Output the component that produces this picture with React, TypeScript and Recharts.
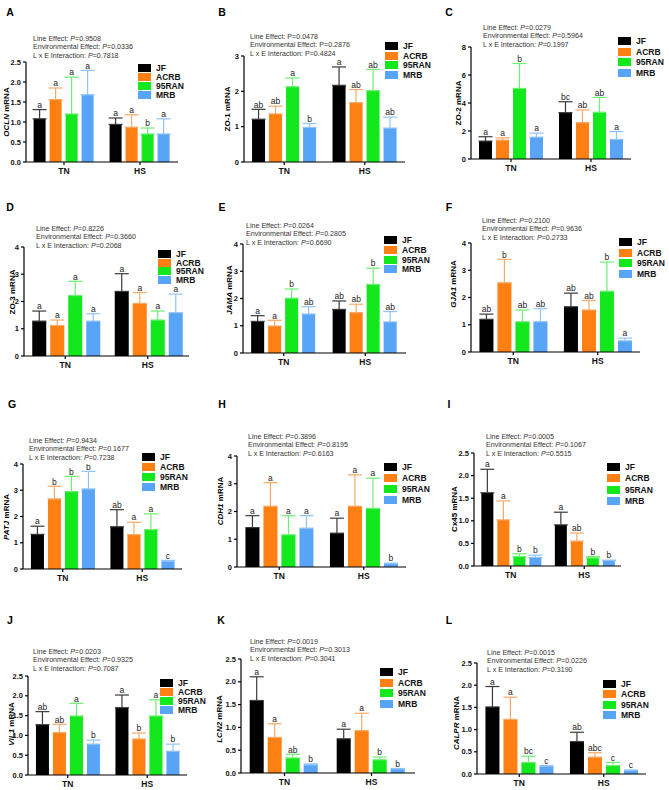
import React from "react";
import { BarChart, Bar, XAxis, YAxis, ErrorBar } from "recharts";

const groups = ["TN", "HS"];
const lines = ["JF", "ACRB", "95RAN", "MRB"];
const barColors = ["#000000", "#ff8012", "#12e81c", "#58a4f6"];
const errColors = ["#3a3a3a", "#f8a966", "#6cef74", "#92c3f8"];
const statNames = ["Line Effect: ", "Environmental Effect: ", "L x E Interaction: "];

// each array: TN (JF, ACRB, 95RAN, MRB), then HS in the same order
const oclnM = [1.08, 1.56, 1.2, 1.68, 0.94, 0.87, 0.7, 0.7];
const oclnE = [0.23, 0.29, 0.92, 0.61, 0.16, 0.31, 0.15, 0.38];
const oclnL = ["a", "a", "a", "a", "a", "a", "b", "a"];
const oclnP = ["0.9508", "0.0336", "0.7818"];

const zo1M = [1.21, 1.36, 2.13, 0.98, 2.17, 1.68, 2.02, 0.96];
const zo1E = [0.28, 0.22, 0.25, 0.11, 0.52, 0.37, 0.6, 0.31];
const zo1L = ["ab", "ab", "a", "b", "a", "ab", "ab", "ab"];
const zo1P = ["0.0478", "0.2876", "0.4824"];

const zo2M = [1.28, 1.35, 5.04, 1.56, 3.31, 2.6, 3.34, 1.4];
const zo2E = [0.31, 0.16, 1.78, 0.29, 0.78, 0.9, 1.06, 0.56];
const zo2L = ["a", "a", "b", "a", "bc", "ab", "ab", "a"];
const zo2P = ["0.0279", "0.5964", "0.1997"];

const zo3M = [1.28, 1.12, 2.22, 1.28, 2.37, 1.93, 1.32, 1.59];
const zo3E = [0.37, 0.2, 0.52, 0.27, 0.65, 0.4, 0.33, 0.68];
const zo3L = ["a", "a", "a", "a", "a", "a", "a", "a"];
const zo3P = ["0.8226", "0.3660", "0.2068"];

const jamaM = [1.16, 0.99, 2.01, 1.43, 1.6, 1.48, 2.52, 1.14];
const jamaE = [0.21, 0.21, 0.34, 0.27, 0.31, 0.31, 0.59, 0.38];
const jamaL = ["a", "a", "b", "ab", "ab", "ab", "b", "ab"];
const jamaP = ["0.0264", "0.2805", "0.6690"];

const gja1M = [1.2, 2.54, 1.11, 1.11, 1.66, 1.54, 2.23, 0.41];
const gja1E = [0.19, 0.86, 0.43, 0.48, 0.5, 0.35, 1.07, 0.1];
const gja1L = ["ab", "b", "ab", "ab", "ab", "ab", "b", "a"];
const gja1P = ["0.2100", "0.9636", "0.2733"];

const patjM = [1.32, 2.67, 2.95, 3.05, 1.61, 1.31, 1.5, 0.3];
const patjE = [0.31, 0.48, 0.58, 0.67, 0.65, 0.47, 0.6, 0.03];
const patjL = ["a", "b", "b", "b", "ab", "a", "a", "c"];
const patjP = ["0.9434", "0.1677", "0.7238"];

const cdh1M = [1.42, 2.19, 1.16, 1.4, 1.22, 2.19, 2.11, 0.12];
const cdh1E = [0.43, 0.85, 0.69, 0.45, 0.54, 1.13, 1.09, 0.02];
const cdh1L = ["a", "a", "a", "a", "a", "a", "a", "b"];
const cdh1P = ["0.3896", "0.8195", "0.6163"];

const cx45M = [1.62, 1.02, 0.21, 0.19, 0.91, 0.55, 0.18, 0.12];
const cx45E = [0.52, 0.42, 0.06, 0.05, 0.28, 0.18, 0.03, 0.01];
const cx45L = ["a", "a", "b", "b", "a", "ab", "b", "b"];
const cx45P = ["0.0005", "0.1067", "0.5515"];

const vil1M = [1.27, 1.07, 1.49, 0.78, 1.7, 0.91, 1.49, 0.6];
const vil1E = [0.33, 0.21, 0.32, 0.1, 0.32, 0.15, 0.41, 0.18];
const vil1L = ["ab", "ab", "a", "b", "a", "b", "a", "b"];
const vil1P = ["0.0203", "0.9325", "0.7087"];

const lcn2M = [1.59, 0.78, 0.33, 0.18, 0.75, 0.93, 0.29, 0.09];
const lcn2E = [0.52, 0.3, 0.08, 0.02, 0.21, 0.38, 0.06, 0.01];
const lcn2L = ["a", "a", "ab", "b", "a", "a", "b", "b"];
const lcn2P = ["0.0019", "0.3013", "0.3041"];

const calprM = [1.51, 1.23, 0.26, 0.17, 0.73, 0.38, 0.19, 0.08];
const calprE = [0.46, 0.5, 0.14, 0.02, 0.21, 0.1, 0.07, 0.01];
const calprL = ["a", "a", "bc", "c", "ab", "abc", "c", "c"];
const calprP = ["0.0015", "0.0226", "0.3190"];

const ticks25 = [0, 0.5, 1, 1.5, 2, 2.5];
const ticks3 = [0, 1, 2, 3];
const ticks4 = [0, 1, 2, 3, 4];
const ticks8 = [0, 2, 4, 6, 8];

const panels = [
  { id: "A", gene: "OCLN", it: true, m: oclnM, e: oclnE, l: oclnL, p: oclnP, ticks: ticks25, dec: 1 },
  { id: "B", gene: "ZO-1", it: false, m: zo1M, e: zo1E, l: zo1L, p: zo1P, ticks: ticks3, dec: 0, plainP: true },
  { id: "C", gene: "ZO-2", it: false, m: zo2M, e: zo2E, l: zo2L, p: zo2P, ticks: ticks8, dec: 0 },
  { id: "D", gene: "ZO-3", it: false, m: zo3M, e: zo3E, l: zo3L, p: zo3P, ticks: ticks4, dec: 0 },
  { id: "E", gene: "JAMA", it: true, m: jamaM, e: jamaE, l: jamaL, p: jamaP, ticks: ticks4, dec: 0 },
  { id: "F", gene: "GJA1", it: true, m: gja1M, e: gja1E, l: gja1L, p: gja1P, ticks: ticks4, dec: 0 },
  { id: "G", gene: "PATJ", it: true, m: patjM, e: patjE, l: patjL, p: patjP, ticks: ticks4, dec: 0 },
  { id: "H", gene: "CDH1", it: true, m: cdh1M, e: cdh1E, l: cdh1L, p: cdh1P, ticks: ticks4, dec: 0 },
  { id: "I", gene: "Cx45", it: false, m: cx45M, e: cx45E, l: cx45L, p: cx45P, ticks: ticks25, dec: 1 },
  { id: "J", gene: "VIL1", it: true, m: vil1M, e: vil1E, l: vil1L, p: vil1P, ticks: ticks25, dec: 1 },
  { id: "K", gene: "LCN2", it: true, m: lcn2M, e: lcn2E, l: lcn2L, p: lcn2P, ticks: ticks25, dec: 1 },
  { id: "L", gene: "CALPR", it: true, m: calprM, e: calprE, l: calprL, p: calprP, ticks: ticks25, dec: 1 },
];

// page placement of each panel: plot box, stats note, legend, panel letter, y title
const layout = [
  { ax: 26, top: 62, bot: 162, right: 178, note: [33, 39], leg: [138, 68, 8.9], tag: [10, 12], yt: [6, 112] },
  { ax: 244, top: 56, bot: 162, right: 405, note: [250, 37], leg: [385, 46, 9.6], tag: [222, 12], yt: [227, 109] },
  { ax: 471, top: 47, bot: 159, right: 631, note: [483, 28], leg: [618, 41, 10.5], tag: [449, 12], yt: [458, 103] },
  { ax: 24, top: 247, bot: 356, right: 189, note: [36, 229], leg: [158, 254, 8.6], tag: [10, 207], yt: [12, 292] },
  { ax: 243, top: 244, bot: 353, right: 406, note: [246, 226], leg: [384, 240, 9.8], tag: [222, 207], yt: [229, 290] },
  { ax: 471, top: 243, bot: 352, right: 640, note: [482, 221], leg: [619, 242, 10.5], tag: [449, 207], yt: [453, 284] },
  { ax: 23, top: 464, bot: 569, right: 182, note: [29, 441], leg: [142, 457, 10], tag: [12, 404], yt: [6, 517] },
  { ax: 237, top: 456, bot: 567, right: 406, note: [248, 437], leg: [384, 467, 11], tag: [222, 404], yt: [220, 501] },
  { ax: 474, top: 453, bot: 566, right: 621, note: [486, 437], leg: [607, 467, 11.3], tag: [449, 404], yt: [454, 509] },
  { ax: 28, top: 676, bot: 775, right: 187, note: [33, 652], leg: [160, 683, 8.9], tag: [10, 620], yt: [11, 724] },
  { ax: 241, top: 659, bot: 773, right: 415, note: [250, 642], leg: [380, 672, 10.7], tag: [221, 620], yt: [219, 719] },
  { ax: 477, top: 663, bot: 774, right: 646, note: [487, 653], leg: [603, 684, 10.3], tag: [449, 620], yt: [456, 723] },
];

const buildRows = (m: number[], e: number[]) =>
  groups.map((g, gi) => {
    const r: any = { grp: g };
    lines.forEach((_, li) => {
      r["v" + li] = m[gi * 4 + li];
      r["e" + li] = [0, e[gi * 4 + li]];
    });
    return r;
  });

// bar with its significance letter above the error cap
const barWithLetter = (sig: string[], s: number) => (props: any) => {
  const { x, y, width, height, fill, index, payload } = props;
  const v = payload["v" + s];
  const err = payload["e" + s][1];
  const k = v > 0 ? height / v : 0;
  const capY = y - err * k;
  return (
    <g>
      <rect x={x} y={y} width={width} height={height} fill={fill} />
      <text x={x + width / 2} y={capY - 1.8} textAnchor="middle" fontSize={8.5} fill="#222">
        {sig[index * 4 + s]}
      </text>
    </g>
  );
};

const Panel = ({ cfg, pos }: { cfg: any; pos: any }) => {
  const rows = buildRows(cfg.m, cfg.e);
  const plotW = pos.right - pos.ax;
  const plotH = pos.bot - pos.top;
  const max = cfg.ticks[cfg.ticks.length - 1];
  return (
    <>
      <div style={{ position: "absolute", left: pos.ax - 30, top: pos.top - 8 }}>
        <BarChart
          width={plotW + 34}
          height={plotH + 28}
          data={rows}
          margin={{ top: 8, right: 4, left: 0, bottom: 0 }}
          barCategoryGap="10%"
          barGap={4}
        >
          <XAxis
            dataKey="grp"
            height={20}
            stroke="#000"
            strokeWidth={1.2}
            tickSize={3}
            tickMargin={3}
            tick={{ fontSize: 8.5, fontWeight: 700, fill: "#111" }}
          />
          <YAxis
            width={30}
            domain={[0, max]}
            ticks={cfg.ticks}
            interval={0}
            allowDataOverflow
            stroke="#000"
            strokeWidth={1.2}
            tickSize={3}
            tickMargin={2}
            tickFormatter={(v: number) => v.toFixed(cfg.dec)}
            tick={{ fontSize: 7.5, fontWeight: 700, fill: "#111" }}
          />
          {lines.map((ln, s) => (
            <Bar
              key={ln}
              dataKey={"v" + s}
              fill={barColors[s]}
              isAnimationActive={false}
              shape={barWithLetter(cfg.l, s)}
            >
              <ErrorBar dataKey={"e" + s} width={7} stroke={errColors[s]} strokeWidth={1.2} direction="y" />
            </Bar>
          ))}
        </BarChart>
      </div>
      <div
        style={{
          position: "absolute",
          left: pos.tag[0],
          top: pos.tag[1],
          transform: "translate(-50%,-50%)",
          fontSize: 10.5,
          fontWeight: 700,
        }}
      >
        {cfg.id}
      </div>
      <div
        style={{
          position: "absolute",
          left: pos.yt[0],
          top: pos.yt[1],
          transform: "translate(-50%,-50%) rotate(-90deg)",
          whiteSpace: "nowrap",
          fontSize: 8,
          fontWeight: 700,
        }}
      >
        <span style={{ fontStyle: cfg.it ? "italic" : "normal" }}>{cfg.gene}</span> mRNA
      </div>
      <div style={{ position: "absolute", left: pos.note[0], top: pos.note[1] - 4.25, fontSize: 7.1, lineHeight: "8.5px", color: "#333", whiteSpace: "nowrap" }}>
        {statNames.map((s, i) => (
          <div key={s}>
            {s}
            <span style={{ fontStyle: cfg.plainP ? "normal" : "italic" }}>P</span>={cfg.p[i]}
          </div>
        ))}
      </div>
      {lines.map((ln, i) => (
        <div
          key={ln}
          style={{
            position: "absolute",
            left: pos.leg[0],
            top: pos.leg[1] - 4 + i * pos.leg[2],
            height: 8,
            whiteSpace: "nowrap",
          }}
        >
          <div style={{ position: "absolute", left: 0, top: 0, width: 13, height: 8, background: barColors[i] }} />
          <div style={{ position: "absolute", left: 18, top: 0, fontSize: 8.5, lineHeight: "8px", fontWeight: 700, color: "#111" }}>
            {ln}
          </div>
        </div>
      ))}
    </>
  );
};

export default function App() {
  return (
    <div
      style={{
        position: "absolute",
        left: 0,
        top: 0,
        width: 669,
        height: 790,
        background: "#fff",
        fontFamily: "'Liberation Sans', Arial, sans-serif",
        overflow: "hidden",
      }}
    >
      {panels.map((cfg, i) => (
        <Panel key={cfg.id} cfg={cfg} pos={layout[i]} />
      ))}
    </div>
  );
}
